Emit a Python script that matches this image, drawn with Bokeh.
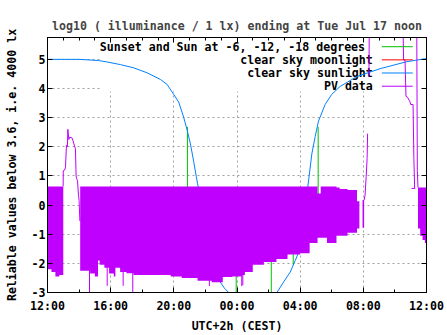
import math
from bokeh.plotting import figure
from bokeh.models import Range1d, FixedTicker, LinearAxis
from bokeh.core.properties import value
from bokeh.embed import file_html
from bokeh.resources import INLINE

NaN = float("nan")
FONT = "DejaVu Sans Mono"
FS = "11.6px"

title_text = "log10 ( illuminance / 1 lx) ending at Tue Jul 17 noon"
x_label = "UTC+2h (CEST)"
y_label = "Reliable values below 3.6, i.e. 4000 lx"
x_tick_pos = [0, 4, 8, 12, 16, 20, 24]
x_tick_labels = ["12:00", "16:00", "20:00", "00:00", "04:00", "08:00", "12:00"]
y_ticks = [-3, -2, -1, 0, 1, 2, 3, 4, 5]

legend_labels = ["Sunset and Sun at -6, -12, -18 degrees", "clear sky moonlight",
                 "clear sky sunlight", "PV data"]
legend_colors = ["#00c000", "#ff0000", "#0080ff", "#c000ff"]

# hours after Mon Jul 16 12:00 (CEST)
# clear sky sunlight
sun_h = [0, 2.0, 3.23, 3.77, 4.62, 5.45, 6.3, 7.15, 7.57, 7.99, 8.31, 8.62, 8.83, 9.05, 9.26,
         9.42, 9.5, 9.9, 10.4, 10.94, 11.2, 11.47, 11.6, NaN,
         14.4, 14.53, 14.95, 15.37, 15.69, 15.9, 16.2, 16.57, 16.74, 16.95, 17.16, 17.58,
         18.0, 18.53, 19.59, 21.06, 22.75, 23.9, 24.0]
sun_v = [5.0, 5.0, 4.96, 4.91, 4.82, 4.71, 4.54, 4.31, 4.14, 3.8, 3.53, 3.02, 2.6, 2.1, 1.49,
         0.98, 0.75, -0.3, -1.5, -2.64, -2.85, -3.0, -3.1, NaN,
         -3.1, -3.0, -2.64, -2.3, -1.9, -1.63, -0.6, 1.0, 1.76, 2.35, 2.88, 3.45,
         3.8, 4.07, 4.41, 4.68, 4.92, 5.02, 5.02]

# sunset / twilight markers (Sun at 0, -6, -12, -18 degrees)
tw_h = [8.86, 11.95, 14.17, 15.56, 17.14]
tw_lo = [0.0, -3.0, -3.0, -2.05, 0.0]
tw_hi = [2.68, -2.0, -1.5, -1.5, 2.68]

# PV data: single-valued stretches
pv_h = [0.99, 1.0, 1.08, 1.14, 1.2, 1.26, 1.29, 1.35, 1.41, 1.56, 1.62, 1.67, 1.77, 1.81,
        1.85, 1.9, 1.96, 2.0, 2.05, NaN,
        20.05, 20.11, 20.18, 20.24, 20.27, NaN, 20.34, 20.36, 20.38, NaN,
        22.5, 22.55, 22.64, 22.7, 22.8, 22.95, 23.0, 23.15, 23.2, 23.25, NaN,
        23.05, 23.28, NaN, 23.38, 23.42, 23.46]
pv_v = [0.64, 1.18, 1.2, 1.3, 2.05, 2.0, 2.6, 2.25, 2.33, 2.3, 2.2, 2.1, 1.93, 1.0,
        0.9, 0.85, 0.34, 0.17, -0.55, NaN,
        0.17, 0.34, 0.98, 1.6, 2.45, NaN, 4.4, 4.75, 6.5, NaN,
        6.5, 4.98, 4.98, 3.73, 3.7, 3.55, 3.45, 3.45, 1.6, 0.57, NaN,
        0.57, 0.57, NaN, 6.5, 1.18, 0.6]

# PV data: rapidly fluctuating stretches (upper / lower envelope)
band_a_h = [0.0, 0.25, 0.5, 0.75, 1.0]
band_a_lo = [-2.2, -2.3, -2.45, -2.4, -2.3]
band_a_hi = [0.64, 0.64, 0.64, 0.64, 0.64]

band_b_h = [2.07, 2.5, 2.7, 3.0, 3.2, 3.3, 3.6, 3.9, 4.2, 4.3, 4.6, 5.0, 5.45, 6.5, 7.8,
            8.5, 9.5, 10.4, 11.1, 11.7, 12.3, 12.5, 13.0, 13.7, 14.5, 15.2, 16.0, 16.6,
            17.1, 17.3, 17.7, 18.3, 18.5, 19.0, 19.6]
band_b_lo = [-2.25, -2.25, -2.35, -2.45, -1.9, -2.05, -2.15, -2.35, -2.45, -2.15, -2.3, -2.34,
             -2.4, -2.4, -2.45, -2.5, -2.6, -2.65, -2.47, -2.45, -2.4, -2.3, -2.05, -1.95,
             -1.85, -1.7, -1.65, -1.3, -1.12, -1.12, -1.3, -1.05, -1.05, -0.95, -0.85]
band_b_hi = [0.64, 0.64, 0.64, 0.64, 0.64, 0.64, 0.64, 0.64, 0.64, 0.64, 0.64, 0.64,
             0.64, 0.64, 0.64, 0.64, 0.64, 0.64, 0.64, 0.64, 0.64, 0.64, 0.64, 0.64,
             0.64, 0.64, 0.64, 0.64, 0.4, 0.64, 0.64, 0.6, 0.55, 0.52, 0.5]

band_c_h = [19.6, 19.75]
band_c_lo = [-0.8, -0.8]
band_c_hi = [0.13, 0.13]

band_d_h = [19.95, 20.05]
band_d_lo = [-0.78, -0.78]
band_d_hi = [0.17, 0.17]

band_e_h = [23.46, 23.6, 23.75, 23.9, 24.0]
band_e_lo = [-0.8, -1.05, -1.2, -1.3, -1.38]
band_e_hi = [0.6, 0.6, 0.6, 0.6, 0.6]

spike_h = [2.66, 3.78, 4.79, 5.4, 10.25, 12.3, 12.37]
spike_lo = [-3.0, -2.77, -2.77, -3.0, -2.78, -2.78, -2.75]

PURPLE = "#c000ff"

p = figure(width=447, height=335, output_backend="svg", toolbar_location=None,
           x_range=Range1d(0, 24), y_range=Range1d(-3, 5.75),
           min_border_left=47, min_border_right=21, min_border_top=37, min_border_bottom=39,
           background_fill_color="white", border_fill_color="white")
p.outline_line_color = "black"
p.outline_line_width = 1

# title
p.title.text = title_text
p.title.align = "center"
p.title.text_font = FONT
p.title.text_font_style = "bold"
p.title.text_font_size = FS
p.title.standoff = 10

# axes
xax = p.xaxis[0]
xax.ticker = FixedTicker(ticks=x_tick_pos, minor_ticks=[2, 6, 10, 14, 18, 22])
xax.major_label_overrides = {t: l for t, l in zip(x_tick_pos, x_tick_labels)}
xax.axis_label = x_label
yax = p.yaxis[0]
yax.ticker = FixedTicker(ticks=y_ticks, minor_ticks=[])
yax.major_label_overrides = {t: str(t) for t in y_ticks}
yax.axis_label = y_label
for ax in (xax, yax):
    ax.major_tick_in = 5
    ax.major_tick_out = 0
    ax.minor_tick_in = 3
    ax.minor_tick_out = 0
    ax.axis_line_color = "black"
    ax.major_tick_line_color = "black"
    ax.minor_tick_line_color = "black"
    ax.major_label_text_font = FONT
    ax.major_label_text_font_style = "bold"
    ax.major_label_text_font_size = FS
    ax.major_label_text_color = "black"
    ax.axis_label_text_font = FONT
    ax.axis_label_text_font_style = "bold"
    ax.axis_label_text_font_size = FS
    ax.axis_label_text_color = "black"
xax.major_label_standoff = 6
xax.axis_label_standoff = 3
yax.major_label_standoff = 2
yax.axis_label_standoff = 10

# mirrored tick marks on the top and right borders (no labels)
top = LinearAxis(ticker=FixedTicker(ticks=x_tick_pos, minor_ticks=list(range(25))),
                 major_label_text_font_size="1px", major_label_text_color=None,
                 major_label_standoff=0,
                 major_tick_in=5, major_tick_out=0, minor_tick_in=3, minor_tick_out=0,
                 axis_line_color="black")
p.add_layout(top, "above")
right = LinearAxis(ticker=FixedTicker(ticks=y_ticks, minor_ticks=[]),
                   major_label_text_font_size="1px", major_label_text_color=None,
                   major_label_standoff=0,
                   major_tick_in=5, major_tick_out=0, axis_line_color="black")
p.add_layout(right, "right")

# grid
p.xgrid.ticker = FixedTicker(ticks=x_tick_pos[1:-1])
p.ygrid.ticker = FixedTicker(ticks=y_ticks[1:])
for g in (p.xgrid[0], p.ygrid[0]):
    g.grid_line_color = "#a0a0a0"
    g.grid_line_dash = "2 3"
    g.grid_line_width = 1

# opaque key background (hides grid under the key)
p.quad(left=3.35, right=24, bottom=3.9, top=5.75, fill_color="white", line_color=None)

# key texts (under the data, as in the original)
key_y = [5.434, 4.983, 4.532, 4.078]
key_text_x = [20.11, 20.6, 20.6, 20.6]
p.text(x=key_text_x, y=key_y, text=legend_labels, text_align="right", text_baseline="middle",
       text_font=value(FONT), text_font_style="bold", text_font_size=FS, text_color="black")

# data
p.segment(x0=tw_h, x1=tw_h, y0=tw_lo, y1=tw_hi, line_color=legend_colors[0], line_width=1)
p.line(sun_h, sun_v, line_color=legend_colors[2], line_width=1)
for bh, blo, bhi in ((band_a_h, band_a_lo, band_a_hi), (band_b_h, band_b_lo, band_b_hi),
                     (band_c_h, band_c_lo, band_c_hi), (band_d_h, band_d_lo, band_d_hi),
                     (band_e_h, band_e_lo, band_e_hi)):
    p.varea_step(x=bh, y1=blo, y2=bhi, step_mode="after", fill_color=PURPLE)
p.segment(x0=spike_h, x1=spike_h, y0=spike_lo, y1=[0.0] * len(spike_h),
          line_color=PURPLE, line_width=1)
p.line(pv_h, pv_v, line_color=PURPLE, line_width=1)

# key samples
p.segment(x0=[21.17] * 4, x1=[23.13] * 4, y0=key_y, y1=key_y, line_color=legend_colors,
          line_width=1)

open("out.html", "w").write(file_html(p, INLINE))
